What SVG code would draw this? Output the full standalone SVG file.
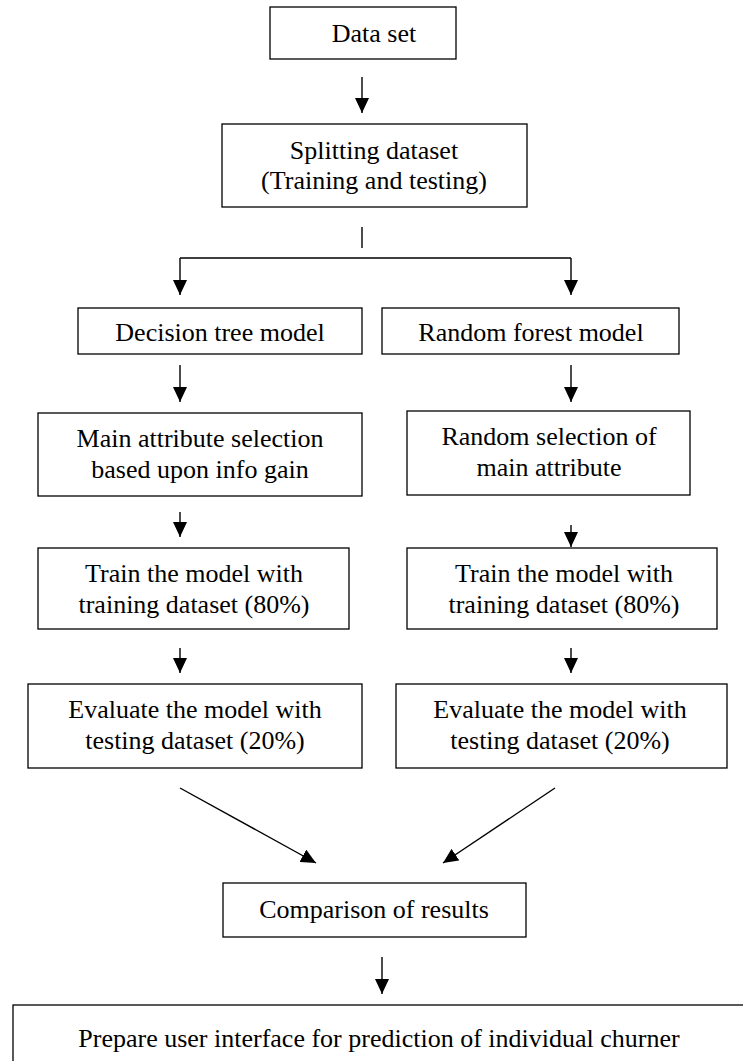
<svg xmlns="http://www.w3.org/2000/svg" width="743" height="1061" viewBox="0 0 743 1061">
<style>
.box{fill:#fff;stroke:#000;stroke-width:1.3}
text{font-family:'Liberation Serif','Tinos','DejaVu Serif','Times New Roman',serif;font-size:26px;fill:#000;text-anchor:middle}
.c{stroke:#000;stroke-width:1.4;fill:none}
.a{marker-end:url(#ah)}
</style>
<defs>
<marker id="ah" markerUnits="userSpaceOnUse" viewBox="0 0 15 14" markerWidth="15" markerHeight="14" refX="15" refY="7" orient="auto">
<path d="M0,0 L15,7 L0,14 z" fill="#000"/>
</marker>
</defs>
<rect width="743" height="1061" fill="#fff"/>
<g id="connectors">
<line class="c a" x1="362" y1="77" x2="362" y2="113"/>
<line class="c" x1="362" y1="227" x2="362" y2="248"/>
<line class="c" x1="180" y1="258" x2="571" y2="258"/>
<line class="c a" x1="180" y1="258" x2="180" y2="295"/>
<line class="c a" x1="571" y1="258" x2="571" y2="295"/>
<line class="c a" x1="180" y1="365" x2="180" y2="402"/>
<line class="c a" x1="571" y1="365" x2="571" y2="402"/>
<line class="c a" x1="180" y1="512" x2="180" y2="537"/>
<line class="c a" x1="571" y1="525" x2="571" y2="547"/>
<line class="c a" x1="180" y1="648" x2="180" y2="673"/>
<line class="c a" x1="571" y1="648" x2="571" y2="673"/>
<line class="c a" x1="180" y1="788" x2="316" y2="863"/>
<line class="c a" x1="555" y1="788" x2="443" y2="863"/>
<line class="c a" x1="382" y1="957" x2="382" y2="994"/>
</g>
<g font-family="Liberation Serif, serif">
<g id="dataset">
<rect class="box" x="270" y="7" width="186" height="52"/>
<text x="374" y="42">Data set</text>
</g>
<g id="splitting">
<rect class="box" x="222" y="124" width="305" height="83"/>
<text x="374" y="159">Splitting dataset</text>
<text x="374" y="189">(Training and testing)</text>
</g>
<g id="decision-tree">
<rect class="box" x="78" y="308" width="284" height="46"/>
<text x="220" y="341">Decision tree model</text>
</g>
<g id="random-forest">
<rect class="box" x="382" y="308" width="297" height="46"/>
<text x="531" y="341">Random forest model</text>
</g>
<g id="main-attr">
<rect class="box" x="38" y="413" width="324" height="83"/>
<text x="200" y="447">Main attribute selection</text>
<text x="200" y="478">based upon info gain</text>
</g>
<g id="random-select">
<rect class="box" x="407" y="411" width="283" height="84"/>
<text x="549" y="445">Random selection of</text>
<text x="549" y="476">main attribute</text>
</g>
<g id="train-left">
<rect class="box" x="38" y="548" width="311" height="81"/>
<text x="194" y="582">Train the model with</text>
<text x="194" y="613">training dataset (80%)</text>
</g>
<g id="train-right">
<rect class="box" x="407" y="548" width="310" height="81"/>
<text x="564" y="582">Train the model with</text>
<text x="564" y="613">training dataset (80%)</text>
</g>
<g id="eval-left">
<rect class="box" x="28" y="684" width="334" height="84"/>
<text x="195" y="718">Evaluate the model with</text>
<text x="195" y="749">testing dataset (20%)</text>
</g>
<g id="eval-right">
<rect class="box" x="396" y="684" width="331" height="84"/>
<text x="560" y="718">Evaluate the model with</text>
<text x="560" y="749">testing dataset (20%)</text>
</g>
<g id="comparison">
<rect class="box" x="223" y="883" width="303" height="54"/>
<text x="374" y="918">Comparison of results</text>
</g>
<g id="prepare">
<rect class="box" x="13" y="1005" width="780" height="80"/>
<text x="379" y="1047">Prepare user interface for prediction of individual churner</text>
</g>
</g>
</svg>
